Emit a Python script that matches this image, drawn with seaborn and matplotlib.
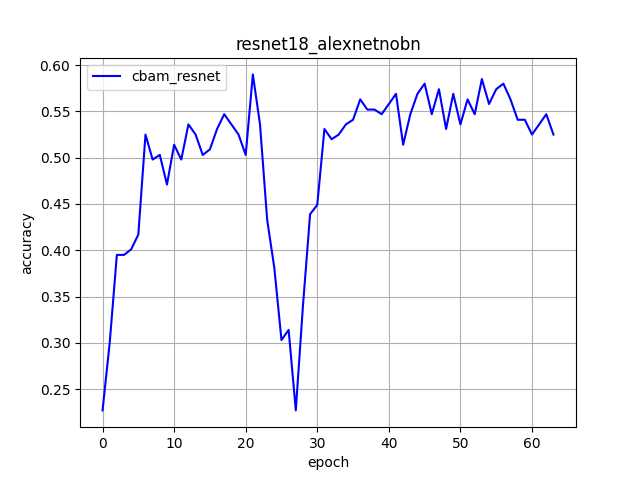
import pandas as pd
import matplotlib
matplotlib.use('Agg')
import matplotlib.pyplot as plt
import seaborn as sns

# ----------------------- Data ---------------------------------------------
epoch = list(range(64))
accuracy = [0.227, 0.300, 0.395, 0.395, 0.401, 0.417, 0.525, 0.498, 0.503, 0.471,
            0.514, 0.498, 0.536, 0.525, 0.503, 0.509, 0.531, 0.547, 0.536, 0.525,
            0.503, 0.590, 0.536, 0.433, 0.381, 0.303, 0.314, 0.227, 0.340, 0.439,
            0.449, 0.531, 0.520, 0.525, 0.536, 0.541, 0.563, 0.552, 0.552, 0.547,
            0.558, 0.569, 0.514, 0.547, 0.569, 0.580, 0.547, 0.574, 0.531, 0.569,
            0.536, 0.563, 0.547, 0.585, 0.558, 0.574, 0.580, 0.563, 0.541, 0.541,
            0.525, 0.536, 0.547, 0.525]

df = pd.DataFrame({'epoch': epoch, 'accuracy': accuracy})

# ----------------------- Plot ---------------------------------------------
fig = plt.figure(figsize=(6.4, 4.8), dpi=100)
ax = sns.lineplot(data=df, x='epoch', y='accuracy', color='blue',
                  linewidth=1.5, label='cbam_resnet')
ax.set_title('resnet18_alexnetnobn')
ax.set_xlabel('epoch')
ax.set_ylabel('accuracy')
ax.grid(True)
ax.legend(loc='upper left')
plt.savefig('out.png', dpi=100)
